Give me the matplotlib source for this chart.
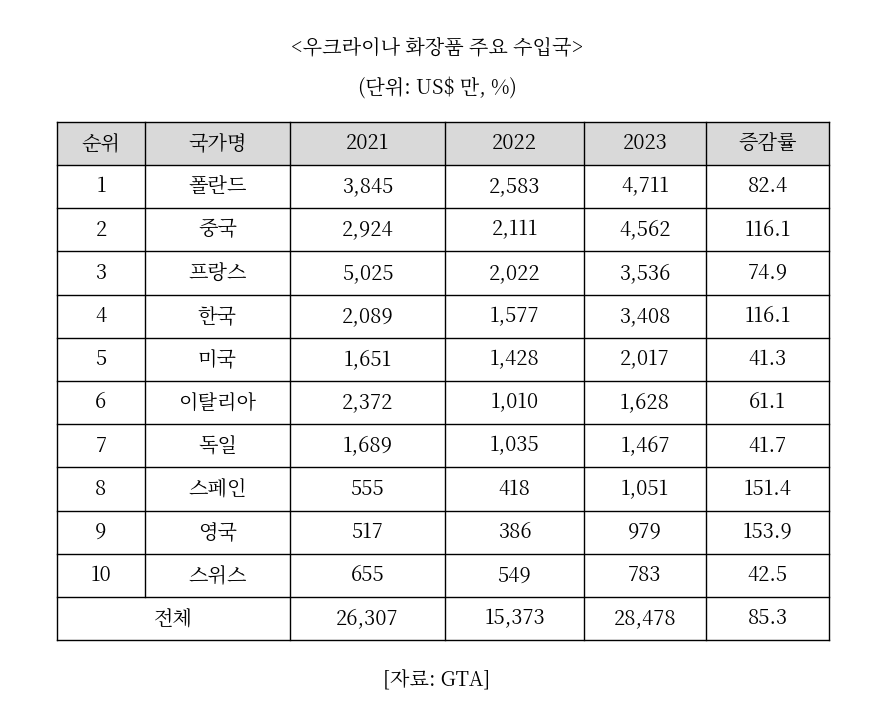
import matplotlib
matplotlib.use("Agg")
import matplotlib.pyplot as plt
from matplotlib import font_manager as fm

fam = None
for f in fm.fontManager.ttflist:
    if "CJK" in f.name and "KR" in f.name:
        fam = f.name
        break
if fam is None:
    for f in fm.fontManager.ttflist:
        if "CJK" in f.name:
            fam = f.name
            break
if fam is None:
    for p in fm.findSystemFonts():
        if "CJK" in p:
            fm.fontManager.addfont(p)
            fam = fm.FontProperties(fname=p).get_name()
            break
plt.rcParams["font.family"] = [fam or "Noto Sans CJK KR", "DejaVu Sans"]

title = "<우크라이나 화장품 주요 수입국>"
unit = "(단위: US$ 만, %)"
source = "[자료: GTA]"
headers = ["순위", "국가명", "2021", "2022", "2023", "증감률"]
ranks = ["1", "2", "3", "4", "5", "6", "7", "8", "9", "10"]
countries = ["폴란드", "중국", "프랑스", "한국", "미국", "이탈리아", "독일", "스페인", "영국", "스위스"]
v2021 = [3845, 2924, 5025, 2089, 1651, 2372, 1689, 555, 517, 655]
v2022 = [2583, 2111, 2022, 1577, 1428, 1010, 1035, 418, 386, 549]
v2023 = [4711, 4562, 3536, 3408, 2017, 1628, 1467, 1051, 979, 783]
growth = [82.4, 116.1, 74.9, 116.1, 41.3, 61.1, 41.7, 151.4, 153.9, 42.5]
total_label = "전체"
totals = [26307, 15373, 28478]
total_growth = 85.3

fig = plt.figure(figsize=(8.75, 7.11), dpi=100)
ax = fig.add_axes([0, 0, 1, 1])
ax.set_xlim(0, 875)
ax.set_ylim(711, 0)
ax.axis("off")

xs = [57, 145, 290, 445, 584, 706, 829]
top, hh, rh = 122, 43, 43.2
fs = 14.5

ax.add_patch(plt.Rectangle((xs[0], top), xs[-1] - xs[0], hh, facecolor="#d9d9d9", edgecolor="none"))
ax.text(437, 47, title, ha="center", va="center", fontsize=fs)
ax.text(437, 88, unit, ha="center", va="center", fontsize=fs)

rows = [headers]
for i in range(len(ranks)):
    rows.append([ranks[i], countries[i], f"{v2021[i]:,}", f"{v2022[i]:,}", f"{v2023[i]:,}", f"{growth[i]}"])

ys = [top, top + hh] + [top + hh + rh * (k + 1) for k in range(len(ranks) + 1)]
for r, row in enumerate(rows):
    yc = (ys[r] + ys[r + 1]) / 2
    for c, t in enumerate(row):
        ax.text((xs[c] + xs[c + 1]) / 2, yc, t, ha="center", va="center", fontsize=fs)
yc = (ys[-2] + ys[-1]) / 2
ax.text((xs[0] + xs[2]) / 2, yc, total_label, ha="center", va="center", fontsize=fs)
for c, t in enumerate([f"{v:,}" for v in totals] + [f"{total_growth}"]):
    ax.text((xs[c + 2] + xs[c + 3]) / 2, yc, t, ha="center", va="center", fontsize=fs)

lw = 1.0
for y in ys:
    ax.plot([xs[0], xs[-1]], [y, y], color="black", lw=lw)
for j, x in enumerate(xs):
    yb = ys[-1] if j != 1 else ys[-2]
    ax.plot([x, x], [ys[0], yb], color="black", lw=lw)

ax.text(437, 680, source, ha="center", va="center", fontsize=fs)
fig.savefig("out.png", dpi=100)
